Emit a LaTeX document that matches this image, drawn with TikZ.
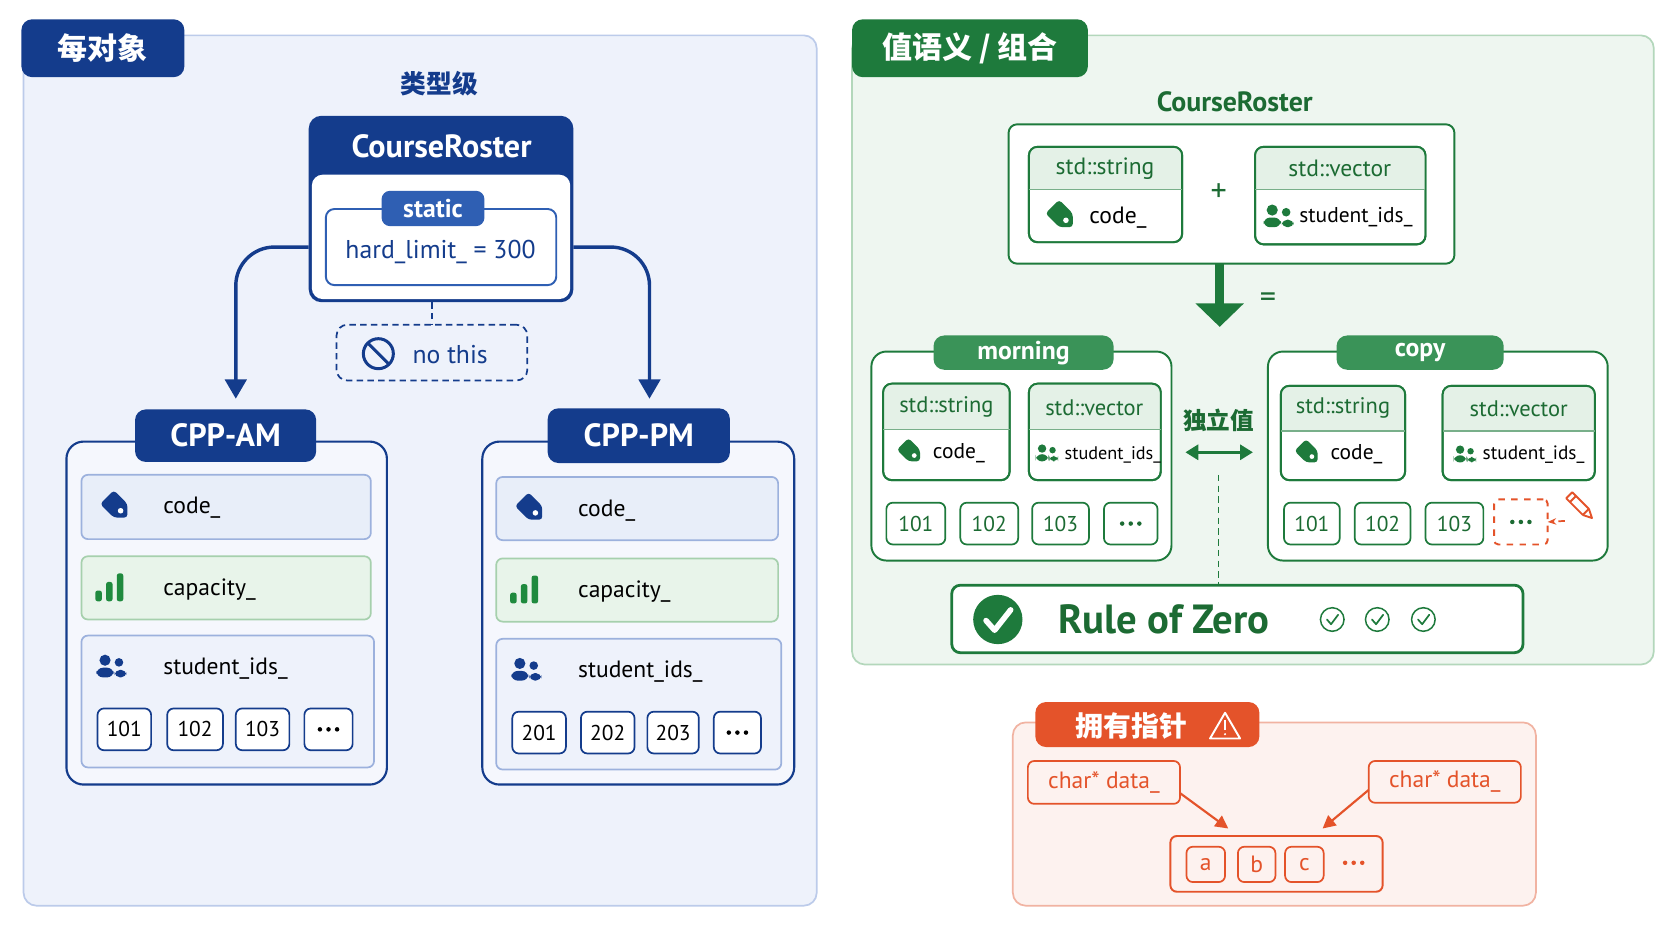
\documentclass[tikz,border=0pt]{standalone}
\usepackage{fontspec}
\setmainfont{PT Sans}
\newfontfamily\cjk{Noto Sans CJK SC}
\usetikzlibrary{arrows.meta,calc}
\definecolor{navy}{HTML}{143C8C}
\definecolor{navyb}{HTML}{2F5FB3}
\definecolor{bfill}{HTML}{EEF2FB}
\definecolor{bline}{HTML}{BCCBEA}
\definecolor{rowb}{HTML}{E8EEF9}
\definecolor{rowbl}{HTML}{9CB1DD}
\definecolor{rowg}{HTML}{E8F4EA}
\definecolor{rowgl}{HTML}{A6D0AD}
\definecolor{gbar}{HTML}{1F8A3E}
\definecolor{gd}{HTML}{1E7A3C}
\definecolor{gt}{HTML}{3A9358}
\definecolor{gfill}{HTML}{EEF6F0}
\definecolor{gline}{HTML}{B3D7BB}
\definecolor{ghead}{HTML}{E4F1E7}
\definecolor{gtext}{HTML}{1C6B33}
\definecolor{org}{HTML}{E4532A}
\definecolor{ofill}{HTML}{FDF2EF}
\definecolor{oline}{HTML}{F1B3A2}
\newcommand\fs[1]{\fontsize{#1}{#1}\selectfont}
\newcommand\bx[6]{\node[#6, minimum width={(#4-#2)*0.5pt}, minimum height={(#5-#3)*0.5pt}, inner sep=0pt, outer sep=0pt] (#1) at ({(#2+#4)/2},{(#3+#5)/2}) {};}
\newcommand\tagicon[4][1]{\begin{scope}[shift={(#2,#3)},rotate=-45,scale=#1]
 \fill[#4,rounded corners=1.5pt] (-13,-9) -- (5,-9) -- (14,0) -- (5,9) -- (-13,9) -- cycle;
 \fill[white] (5,0) circle (2.6);\end{scope}}
\newcommand\people[3]{\begin{scope}[shift={(#1,#2)}]
 \fill[#3] (-5,-6) circle (5.2); \fill[#3] (8,-4) circle (4);
 \fill[#3,rounded corners=3pt] (-13,10) rectangle (3,1);
 \fill[#3,rounded corners=2.5pt] (4,10) rectangle (15,3);\end{scope}}
\newcommand\bars[3]{\begin{scope}[shift={(#1,#2)}]
 \fill[#3,rounded corners=1pt] (-14,12) rectangle (-8,2);
 \fill[#3,rounded corners=1pt] (-4,12) rectangle (2,-6);
 \fill[#3,rounded corners=1pt] (6,12) rectangle (12,-14);\end{scope}}
\newcommand\chk[4]{\begin{scope}[shift={(#1,#2)}]
 \draw[#4,line width=0.7pt] (0,0) circle (#3);
 \draw[#4,line width=0.8pt,line cap=round,line join=round] (-0.45*#3,0) -- (-0.1*#3,0.4*#3) -- (0.5*#3,-0.4*#3);\end{scope}}
\newcommand\tdots[2]{\fill[#2] ($(#1)+(-8,0)$) circle (2.1) (#1) circle (2.1) ($(#1)+(8,0)$) circle (2.1);}
\tikzset{
 x=0.5pt,y=-0.5pt,
 panelb/.style={draw=bline,fill=bfill,line width=0.8pt,rounded corners=6pt},
 tabb/.style={fill=navy,rounded corners=5pt},
 chip/.style={draw=navy,fill=white,line width=0.8pt,rounded corners=3pt},
 gchip/.style={draw=gd,fill=white,line width=0.8pt,rounded corners=3pt},
 gcard/.style={draw=gd,fill=white,line width=0.9pt,rounded corners=4pt},
 ochip/.style={draw=org,fill=ofill,line width=0.8pt,rounded corners=3pt},
 txt/.style={inner sep=0pt,font=\fs{11}},
}
\begin{document}
\begin{tikzpicture}
\useasboundingbox[fill=white] (0,0) rectangle (1560,878);
% ===== left panel
\bx{lp}{22}{33}{762}{845}{panelb}
\bx{lptab}{20}{18}{172}{72}{tabb}
\node[txt,white,font=\cjk\bfseries\fs{14}] at (lptab) {每对象};
\node[txt,navy,font=\cjk\bfseries\fs{12}] (lvl) at (410,78) {类型级};
% CourseRoster
\bx{cr}{288}{108}{535}{282}{fill=navy,rounded corners=6pt}
\fill[white,rounded corners=5pt] (291,163) rectangle (532,279);
\node[txt,white,font=\bfseries\fs{15}] at (412,136) {CourseRoster};
\bx{hl}{304}{195}{519}{266}{draw=navyb,fill=white,line width=0.9pt,rounded corners=4pt}
\bx{st}{356}{178}{452}{211}{fill=navyb,rounded corners=4pt}
\node[txt,white,font=\bfseries\fs{12}] at (st) {static};
\node[txt,navy,font=\fs{12}] at (411,235) {hard\_limit\_ = 300};
\bx{nt}{314}{303}{492}{355}{draw=navy,densely dashed,line width=0.8pt,rounded corners=5pt,fill=bfill}
\draw[navy,densely dashed,line width=0.7pt] (cr.south -| nt.north) -- (nt.north);
\draw[navy,line width=1.4pt] (353,330) circle (14);
\draw[navy,line width=1.4pt] (343,320) -- (363,340);
\node[txt,navy,font=\fs{12}] at (420,331) {no this};
% CPP boxes
\bx{am}{62}{412}{361}{732}{draw=navy,fill=white!40!bfill,line width=1pt,rounded corners=8pt}
\bx{amt}{126}{382}{295}{431}{tabb}
\node[txt,white,font=\bfseries\fs{15}] at (amt) {CPP-AM};
\bx{pm}{450}{412}{741}{732}{draw=navy,fill=white!40!bfill,line width=1pt,rounded corners=8pt}
\bx{pmt}{511}{381}{681}{432}{tabb}
\node[txt,white,font=\bfseries\fs{15}] at (pmt) {CPP-PM};
\coordinate (al) at (220,372);
\coordinate (ar) at (606,372);
\draw[navy,line width=1.6pt,rounded corners=18pt,-{Triangle[width=10pt,length=9pt]}] (cr.west |- hl) -| (al);
\draw[navy,line width=1.6pt,rounded corners=18pt,-{Triangle[width=10pt,length=9pt]}] (cr.east |- hl) -| (ar);
% AM rows
\bx{amc}{76}{443}{346}{503}{draw=rowbl,fill=rowb,line width=0.8pt,rounded corners=3pt}
\tagicon{109}{473}{navy}
\node[txt,anchor=west] at (152,474) {code\_};
\bx{amk}{76}{519}{346}{578}{draw=rowgl,fill=rowg,line width=0.8pt,rounded corners=3pt}
\bars{103}{549}{gbar}
\node[txt,anchor=west] at (152,550) {capacity\_};
\bx{ams}{76}{593}{349}{716}{draw=rowbl,fill=bfill,line width=0.8pt,rounded corners=3pt}
\people{103}{622}{navy}
\node[txt,anchor=west] at (152,624) {student\_ids\_};
\bx{a1}{91}{661}{141}{700}{chip}\node[txt,font=\fs{10}] at (a1) {101};
\bx{a2}{156}{661}{208}{700}{chip}\node[txt,font=\fs{10}] at (a2) {102};
\bx{a3}{220}{661}{270}{700}{chip}\node[txt,font=\fs{10}] at (a3) {103};
\bx{a4}{284}{661}{329}{700}{chip}\tdots{a4}{black}
% PM rows
\bx{pmc}{463}{445}{726}{504}{draw=rowbl,fill=rowb,line width=0.8pt,rounded corners=3pt}
\tagicon{496}{475}{navy}
\node[txt,anchor=west] at (539,476) {code\_};
\bx{pmk}{463}{521}{726}{580}{draw=rowgl,fill=rowg,line width=0.8pt,rounded corners=3pt}
\bars{490}{551}{gbar}
\node[txt,anchor=west] at (539,552) {capacity\_};
\bx{pms}{463}{596}{729}{718}{draw=rowbl,fill=bfill,line width=0.8pt,rounded corners=3pt}
\people{490}{625}{navy}
\node[txt,anchor=west] at (539,627) {student\_ids\_};
\bx{p1}{478}{664}{528}{703}{chip}\node[txt,font=\fs{10}] at (p1) {201};
\bx{p2}{542}{664}{592}{703}{chip}\node[txt,font=\fs{10}] at (p2) {202};
\bx{p3}{604}{664}{652}{703}{chip}\node[txt,font=\fs{10}] at (p3) {203};
\bx{p4}{666}{664}{710}{703}{chip}\tdots{p4}{black}
% ===== right panel
\bx{rp}{795}{33}{1543}{620}{draw=gline,fill=gfill,line width=0.8pt,rounded corners=6pt}
\bx{rpt}{795}{18}{1015}{72}{fill=gd,rounded corners=5pt}
\node[txt,white,font=\cjk\bfseries\fs{14}] at (rpt) {值语义 / 组合};
\node[txt,gtext,font=\bfseries\fs{13}] at (1152,95) {CourseRoster};
\bx{rc}{941}{116}{1357}{246}{draw=gd,fill=white,line width=0.9pt,rounded corners=4pt}
\newcommand\gcardh[6]{\bx{#1}{#2}{#3}{#4}{#5}{gcard}
 \begin{scope}\clip[rounded corners=4pt] (#2,#3) rectangle (#4,#5);
 \fill[ghead] (#2,#3) rectangle (#4,#6);\end{scope}
 \draw[gd,line width=0.9pt,rounded corners=4pt] (#2,#3) rectangle (#4,#5);
 \draw[gd!60,line width=0.6pt] (#2,#6) -- (#4,#6);}
\gcardh{s0}{960}{137}{1103}{226}{177}
\node[txt,gtext,font=\fs{11}] at (1031,157) {std::string};
\tagicon{991}{202}{gd}\node[txt,anchor=west] at (1016,203) {code\_};
\node[txt,gtext,font=\fs{15}] at (1137,180) {+};
\gcardh{v0}{1171}{137}{1330}{228}{177}
\node[txt,gtext,font=\fs{11}] at (1250,157) {std::vector};
\people{1192}{202}{gd}\node[txt,anchor=west,font=\fs{10}] at (1212,203) {student\_ids\_};
\coordinate (da) at (1138,305);
\draw[gd,line width=4pt,-{Triangle[width=22pt,length=11pt]}] (rc.south -| da) -- (da);
\node[txt,gtext,font=\fs{15}] at (1183,280) {=};
% morning
\bx{mo}{813}{328}{1093}{523}{draw=gd,fill=white,line width=0.9pt,rounded corners=7pt}
\bx{mot}{871}{313}{1039}{345}{fill=gt,rounded corners=5pt}
\node[txt,white,font=\bfseries\fs{12}] at (mot) {morning};
\gcardh{s1}{824}{358}{942}{448}{401}
\node[txt,gtext,font=\fs{10.5}] at (883,380) {std::string};
\tagicon[0.85]{850}{422}{gd}\node[txt,anchor=west,font=\fs{10}] at (870,423) {code\_};
\gcardh{v1}{960}{358}{1083}{448}{401}
\node[txt,gtext,font=\fs{10.5}] at (1021,380) {std::vector};
\begin{scope}[scale=0.75,shift={(976/0.75,423/0.75)}]\people{0}{0}{gd}\end{scope}
\node[txt,anchor=west,font=\fs{8.5}] at (993,424) {student\_ids\_};
\bx{m1}{827}{469}{882}{508}{gchip}\node[txt,gtext,font=\fs{10}] at (m1) {101};
\bx{m2}{896}{469}{950}{508}{gchip}\node[txt,gtext,font=\fs{10}] at (m2) {102};
\bx{m3}{963}{469}{1016}{508}{gchip}\node[txt,gtext,font=\fs{10}] at (m3) {103};
\bx{m4}{1030}{469}{1080}{508}{gchip}\tdots{m4}{gtext}
% copy
\bx{cp}{1183}{328}{1500}{523}{draw=gd,fill=white,line width=0.9pt,rounded corners=7pt}
\bx{cpt}{1247}{313}{1403}{345}{fill=gt,rounded corners=5pt}
\node[txt,white,font=\bfseries\fs{12}] at (cpt) {copy};
\gcardh{s2}{1195}{360}{1311}{448}{402}
\node[txt,gtext,font=\fs{10.5}] at (1253,381) {std::string};
\tagicon[0.85]{1221}{423}{gd}\node[txt,anchor=west,font=\fs{10}] at (1241,424) {code\_};
\gcardh{v2}{1346}{360}{1488}{448}{402}
\node[txt,gtext,font=\fs{10.5}] at (1417,381) {std::vector};
\begin{scope}[scale=0.75,shift={(1366/0.75,424/0.75)}]\people{0}{0}{gd}\end{scope}
\node[txt,anchor=west,font=\fs{9}] at (1383,424) {student\_ids\_};
\bx{c1}{1198}{469}{1250}{508}{gchip}\node[txt,gtext,font=\fs{10}] at (c1) {101};
\bx{c2}{1264}{469}{1316}{508}{gchip}\node[txt,gtext,font=\fs{10}] at (c2) {102};
\bx{c3}{1330}{469}{1384}{508}{gchip}\node[txt,gtext,font=\fs{10}] at (c3) {103};
\bx{c4}{1394}{466}{1444}{508}{draw=org,dashed,line width=0.9pt,rounded corners=2pt}\tdots{c4}{gtext}
\begin{scope}[shift={(1474,472)},rotate=45]
 \draw[org,line width=0.9pt,line join=round] (-4,-14) rectangle (4,8);
 \draw[org,line width=0.9pt,line join=round] (-4,8) -- (0,16) -- (4,8);
 \draw[org,line width=0.9pt] (-4,-9) -- (4,-9);
\end{scope}
\coordinate (pn) at (1460,486);
\draw[org,densely dashed,line width=0.8pt,-{Stealth[length=4pt]}] (pn) -- (c4.east);
\node[txt,gtext,font=\cjk\bfseries\fs{11}] at (1137,392) {独立值};
\draw[gd,line width=1.4pt,{Triangle[width=7pt,length=6pt]}-{Triangle[width=7pt,length=6pt]}] (1106,422) -- (1169,422);
\bx{rz}{888}{546}{1421}{609}{draw=gd,fill=white,line width=1.3pt,rounded corners=4pt}
\draw[gd,densely dashed,line width=0.8pt] (1137,443) -- (rz.north -| 1137,0);
\fill[gd] (931,578) circle (23);
\draw[white,line width=2.6pt,line cap=round,line join=round] (920,579) -- (928,588) -- (943,569);
\node[txt,gtext,font=\bfseries\fs{19}] at (1086,578) {Rule of Zero};
\chk{1243}{578}{11}{gd}\chk{1285}{578}{11}{gd}\chk{1328}{578}{11}{gd}
% ===== bottom panel
\bx{op}{945}{674}{1433}{845}{draw=oline,fill=ofill,line width=0.8pt,rounded corners=6pt}
\bx{opt}{966}{655}{1175}{697}{fill=org,rounded corners=5pt}
\node[txt,white,font=\cjk\bfseries\fs{13},anchor=west] at (1003,677) {拥有指针};
\draw[white,line width=0.9pt,line join=round] (1143,665) -- (1157,689) -- (1129,689) -- cycle;
\draw[white,line width=1pt] (1143,672) -- (1143,681); \fill[white] (1143,685) circle (1.1);
\bx{d1}{959}{710}{1101}{750}{ochip}\node[txt,org,font=\fs{11}] at (d1) {char* data\_};
\bx{d2}{1277}{710}{1419}{749}{ochip}\node[txt,org,font=\fs{11}] at (d2) {char* data\_};
\bx{arr}{1092}{780}{1290}{832}{draw=org,fill=ofill,line width=0.9pt,rounded corners=3pt}
\bx{ea}{1107}{790}{1143}{823}{ochip}\node[txt,org] at (ea) {a};
\bx{eb}{1155}{790}{1190}{823}{ochip}\node[txt,org] at (eb) {b};
\bx{ec}{1199}{790}{1235}{823}{ochip}\node[txt,org] at (ec) {c};
\coordinate (ed) at (1263,805);\tdots{ed}{org}
\draw[org,line width=1pt,-{Triangle[width=6pt,length=6pt]}] (d1.east |- 0,740) -- (1146,773);
\draw[org,line width=1pt,-{Triangle[width=6pt,length=6pt]}] (d2.west |- 0,737) -- (1234,773);
\end{tikzpicture}
\end{document}
